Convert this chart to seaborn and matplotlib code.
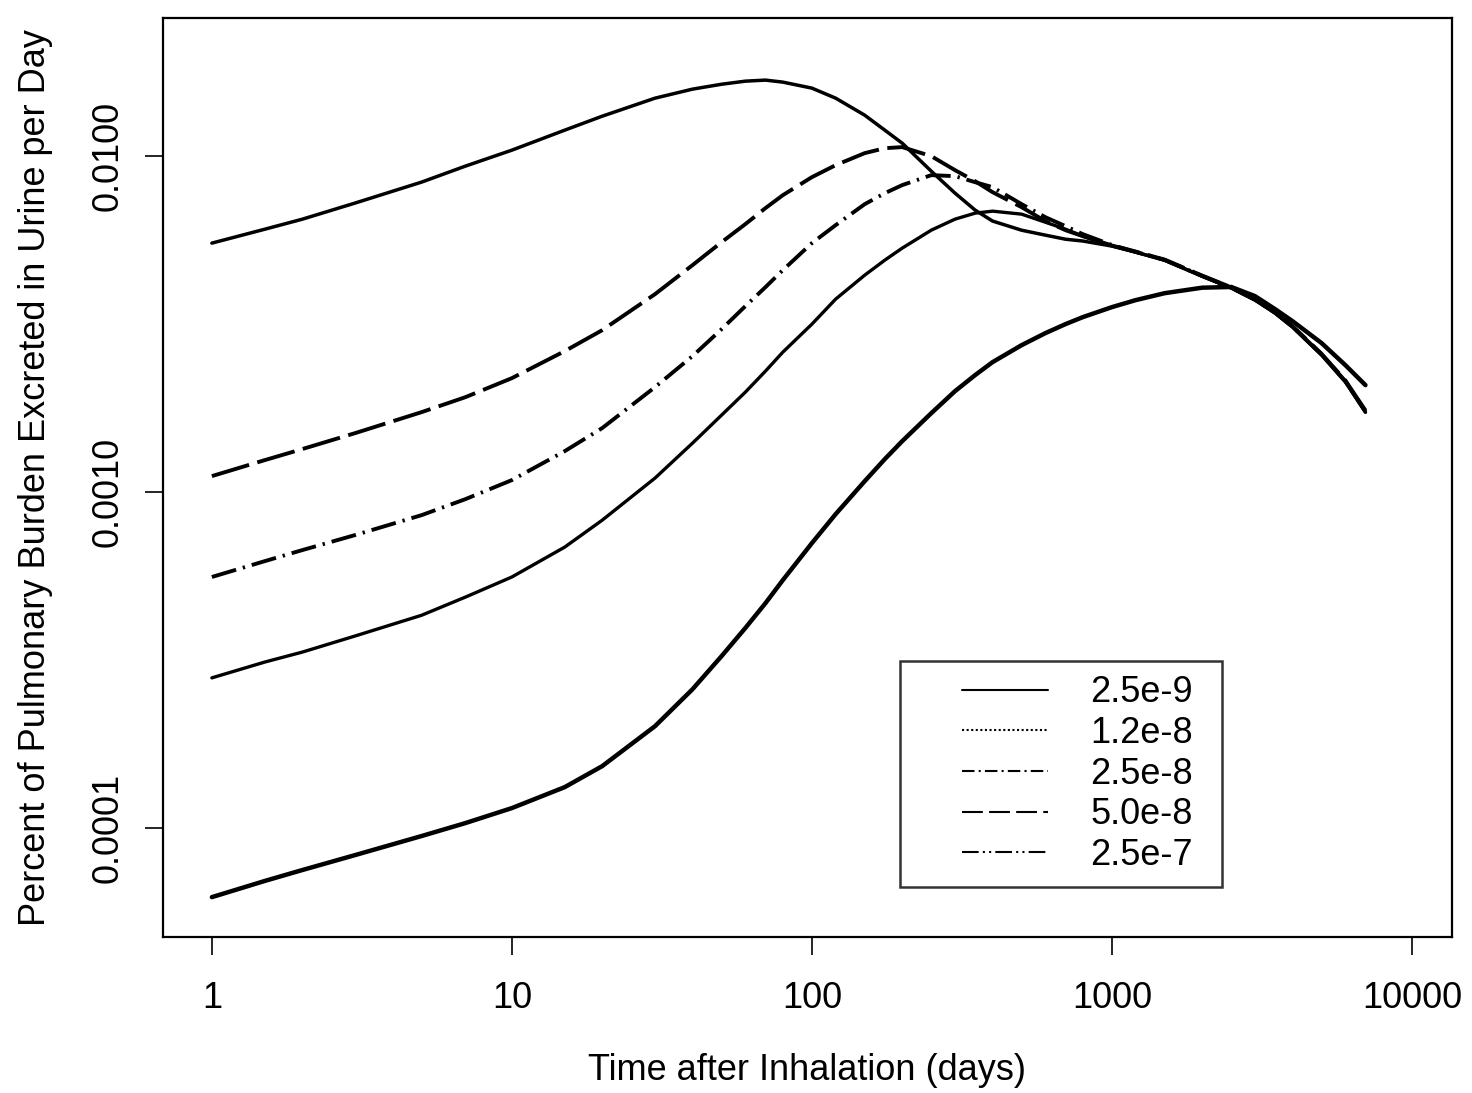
import matplotlib
matplotlib.use('Agg')
import matplotlib.pyplot as plt
from matplotlib.lines import Line2D
from matplotlib.legend_handler import HandlerLine2D
import seaborn as sns
import pandas as pd

# days after inhalation, shared by every curve
days = [1, 1.5, 2, 3, 5, 7, 10, 15, 20, 30, 40, 50, 60, 70, 80, 100, 120, 150, 175,
        200, 250, 300, 350, 400, 500, 600, 700, 800, 1000, 1200, 1500, 2000, 2500,
        3000, 3500, 4000, 5000, 6000, 7000]

# percent of pulmonary burden excreted in urine per day
y_25e7 = [0.00551, 0.00606, 0.00649, 0.00725, 0.00837, 0.00934, 0.01042, 0.01195, 0.01315,
          0.01488, 0.01583, 0.01637, 0.01672, 0.01684, 0.01661, 0.01594, 0.01488, 0.01324,
          0.01195, 0.01093, 0.00902, 0.00776, 0.00691, 0.00641, 0.00602, 0.00582, 0.00566,
          0.00559, 0.00540, 0.00518, 0.00490, 0.00439, 0.00405, 0.00373, 0.00341, 0.00310,
          0.00256, 0.00213, 0.00173]
y_50e8 = [0.001116, 0.001245, 0.001343, 0.001498, 0.001730, 0.001917, 0.002184, 0.002628,
          0.003034, 0.003884, 0.004738, 0.005546, 0.006276, 0.007003, 0.007653, 0.008660,
          0.009402, 0.01021, 0.01056, 0.01064, 0.01000, 0.009085, 0.008424, 0.007814,
          0.007050, 0.006406, 0.006022, 0.005779, 0.00542, 0.00520, 0.00492, 0.00441,
          0.00407, 0.00375, 0.00343, 0.00312, 0.00258, 0.00215, 0.00175]
y_25e8 = [0.000559, 0.000623, 0.000672, 0.000745, 0.000854, 0.000953, 0.001086, 0.001324,
          0.001551, 0.002054, 0.002540, 0.003055, 0.003577, 0.004074, 0.004578, 0.00551,
          0.006232, 0.007197, 0.007759, 0.00820, 0.008780, 0.008719, 0.008367, 0.008086,
          0.007197, 0.006583, 0.006190, 0.005859, 0.00544, 0.00519, 0.00491, 0.00440,
          0.00406, 0.00374, 0.00342, 0.00311, 0.00257, 0.00214, 0.00174]
y_12e8 = [0.000280, 0.000312, 0.000334, 0.000373, 0.000430, 0.000487, 0.000559, 0.000686,
          0.000825, 0.001101, 0.001399, 0.001695, 0.001984, 0.002291, 0.002610, 0.003162,
          0.003754, 0.004424, 0.004903, 0.005324, 0.006022, 0.006494, 0.006766, 0.00686,
          0.00672, 0.00636, 0.006064, 0.005779, 0.00541, 0.00518, 0.00490, 0.00439,
          0.00405, 0.00373, 0.00341, 0.00310, 0.00256, 0.00213, 0.00173]
y_25e9 = [6.23e-5, 6.96e-5, 7.50e-5, 8.31e-5, 9.47e-5, 1.035e-4, 1.147e-4, 1.324e-4,
          1.529e-4, 2.011e-4, 2.59e-4, 3.25e-4, 3.94e-4, 4.67e-4, 5.47e-4, 7.05e-4,
          8.60e-4, 1.078e-3, 1.254e-3, 1.418e-3, 1.718e-3, 1.998e-3, 2.230e-3, 2.437e-3,
          2.738e-3, 2.973e-3, 3.162e-3, 3.318e-3, 3.553e-3, 3.728e-3, 3.910e-3, 4.06e-3,
          4.08e-3, 3.831e-3, 3.504e-3, 3.228e-3, 2.777e-3, 2.388e-3, 2.082e-3]

labels = ['2.5e-9', '1.2e-8', '2.5e-8', '5.0e-8', '2.5e-7']
series = [y_25e9, y_12e8, y_25e8, y_50e8, y_25e7]

df = pd.concat([pd.DataFrame({'days': days, 'pct': s, 'dose': lab})
                for lab, s in zip(labels, series)])

sns.set_style('ticks')
plt.rcParams['font.family'] = ['Liberation Sans', 'DejaVu Sans']
plt.rcParams.update({'text.color': 'black', 'axes.labelcolor': 'black',
                     'xtick.color': 'black', 'ytick.color': 'black'})

fig = plt.figure(figsize=(14.72, 10.93), dpi=100)
ax = fig.add_axes([0.1107, 0.1427, 0.8757, 0.8408])

# how the curves look in the printed figure (dotted / dash-dot-dot print as solid)
curve_style = {
    '2.5e-9': ('-', 3.2),
    '1.2e-8': ('-', 2.4),
    '2.5e-8': ((0, (6.5, 1.8, 0.6, 1.8)), 2.8),
    '5.0e-8': ((0, (10, 2.2)), 2.8),
    '2.5e-7': ('-', 2.5),
}
for lab in labels:
    ls, lw = curve_style[lab]
    sns.lineplot(data=df[df['dose'] == lab], x='days', y='pct', ax=ax,
                 color='black', linestyle=ls, linewidth=lw, legend=False,
                 solid_capstyle='round', solid_joinstyle='round')

ax.set_xscale('log')
ax.set_yscale('log')
ax.set_xlim(0.687, 13600)
ax.set_ylim(4.74e-5, 0.02577)

ax.set_xticks([1, 10, 100, 1000, 10000])
ax.set_xticklabels(['1', '10', '100', '1000', '10000'])
ax.set_yticks([1e-4, 1e-3, 1e-2])
ax.set_yticklabels(['0.0001', '0.0010', '0.0100'], rotation=90, va='center')
ax.minorticks_off()
ax.tick_params(axis='both', which='major', length=13, width=1.2, labelsize=26)
ax.tick_params(axis='x', pad=19)
ax.tick_params(axis='y', pad=14)

for sp in ax.spines.values():
    sp.set_linewidth(1.6)
    sp.set_color('black')

ax.set_xlabel('Time after Inhalation (days)', fontsize=26)
ax.set_ylabel('Percent of Pulmonary Burden Excreted in Urine per Day', fontsize=26)
ax.xaxis.set_label_coords(0.5, -0.126)
ax.yaxis.set_label_coords(-0.0853, 0.5)

legend_style = {
    '2.5e-9': '-',
    '1.2e-8': (0, (1, 1.2)),
    '2.5e-8': (0, (6, 2, 1, 2)),
    '5.0e-8': (0, (10, 3)),
    '2.5e-7': (0, (8, 2, 1, 2, 1, 2)),
}
handles = [Line2D([], [], color='black', linestyle=legend_style[lab], linewidth=1.5)
           for lab in labels]
leg = ax.legend(handles, labels, loc='upper left', bbox_to_anchor=(0.572, 0.3003, 0.2496, 0.0),
                mode='expand', fontsize=26, frameon=True, fancybox=False,
                edgecolor='black', borderpad=0.4, labelspacing=0.155,
                handlelength=3.7, handletextpad=1.16, borderaxespad=0,
                handler_map={Line2D: HandlerLine2D(xpad=1.32)})
leg.get_frame().set_linewidth(1.8)

fig.savefig('out.png', dpi=100, facecolor='white')
plt.close(fig)
